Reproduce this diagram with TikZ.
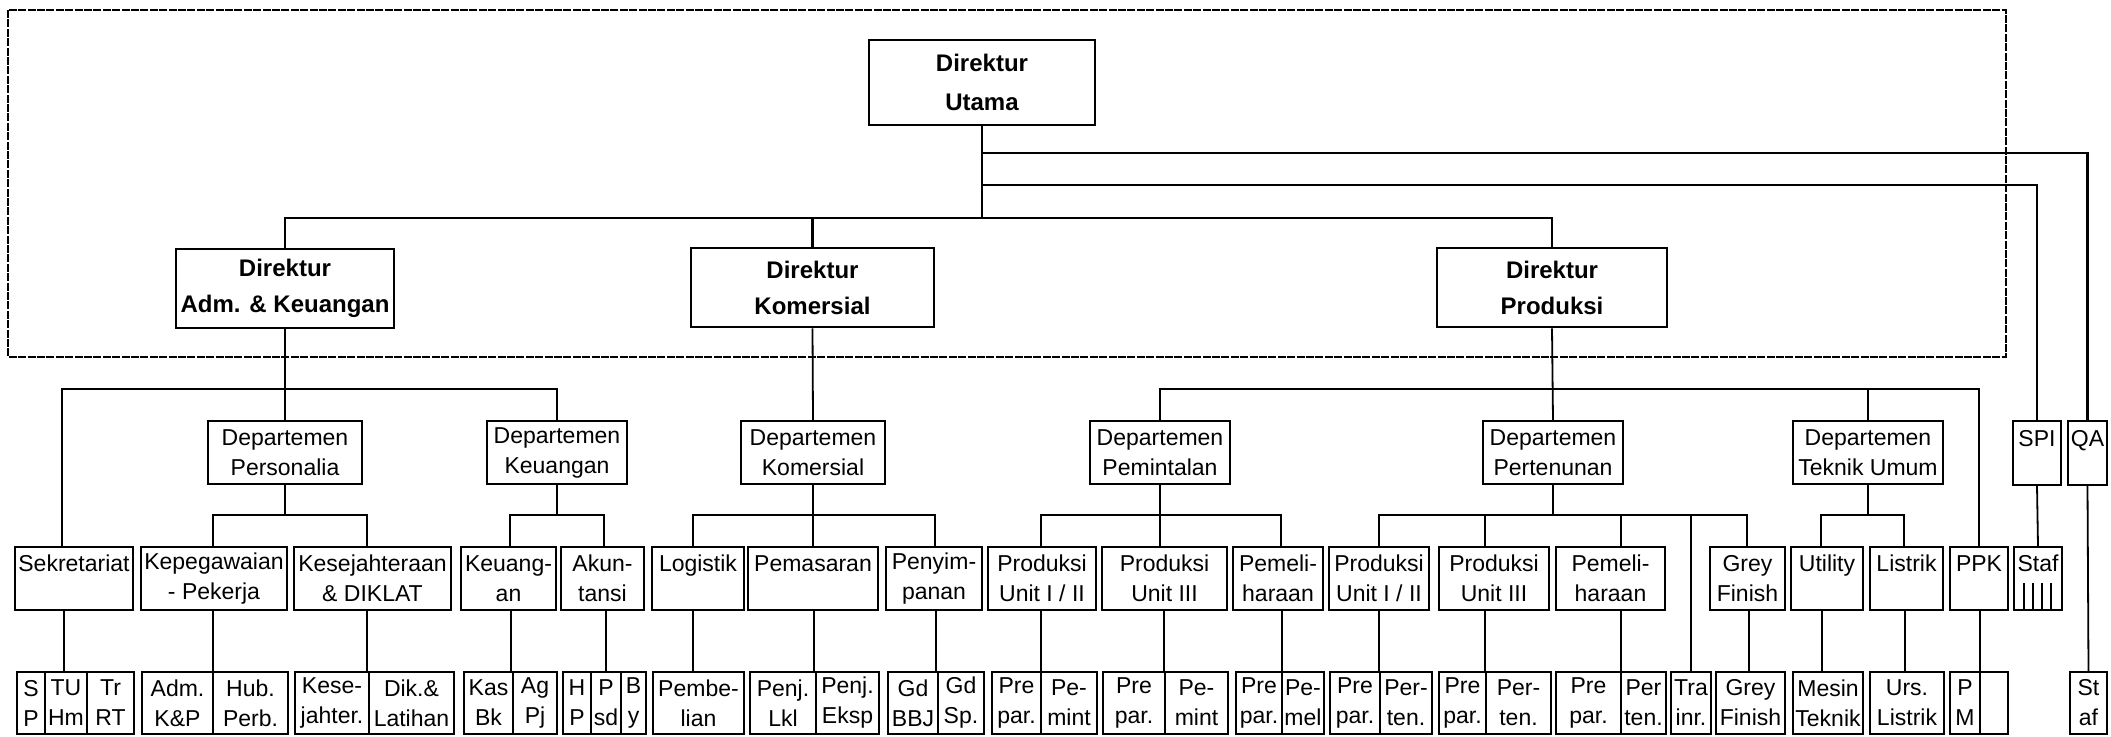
\documentclass[tikz,border=0pt]{standalone}
\usepackage{fontspec}
\setmainfont{Liberation Sans}
\newcommand\obox[7][]{\node[#1, minimum width={(#4-#2)*0.5pt}, minimum height={(#5-#3)*0.5pt}] (#6) at ({(#2+#4)/2},{(#3+#5)/2}) {#7};}
\newcommand\vl[3]{\draw[conn] (#2.south -| #1,0) -- (#3.north -| #1,0);}
\tikzset{
 dir/.style={draw, line width=1.3pt, inner sep=0pt, align=center, font=\bfseries\fontsize{12}{18}\selectfont},
 dept/.style={draw, line width=0.9pt, inner sep=0pt, align=center, font=\fontsize{11.5}{15}\selectfont},
 unit/.style={draw, line width=0.9pt, inner sep=0pt, align=center, font=\fontsize{11.5}{15}\selectfont},
 leaf/.style={draw, line width=0.9pt, inner sep=0pt, align=center, font=\fontsize{11.5}{15}\selectfont},
 conn/.style={line width=0.9pt},
 mconn/.style={line width=1.2pt},
}
\begin{document}
\begin{tikzpicture}[x=0.5pt,y=-0.5pt]
\useasboundingbox (0,0) rectangle (2111,737);
% frame
\draw[dash pattern=on 4pt off 0.7pt, line width=0.7pt] (8,10) rectangle (2006,357);
% directors
\obox[dir,font=\bfseries\fontsize{12}{19.5}\selectfont]{869}{40}{1095}{125}{du}{Direktur\\Utama}
\obox[dir]{176}{249}{394}{328}{dadm}{Direktur\\Adm. \& Keuangan}
\obox[dir]{691}{248}{934}{327}{dkom}{Direktur\\Komersial}
\obox[dir]{1437}{248}{1667}{327}{dprod}{Direktur\\Produksi}
% departments
\obox[dept]{208}{421}{362}{484}{dpers}{Departemen\\Personalia}
\obox[dept]{487}{421}{627}{484}{dkeu}{Departemen\\Keuangan}
\obox[dept]{741}{421}{885}{484}{dkomd}{Departemen\\Komersial}
\obox[dept]{1090}{421}{1230}{484}{dpem}{Departemen\\Pemintalan}
\obox[dept]{1483}{421}{1623}{484}{dper}{Departemen\\Pertenunan}
\obox[dept]{1793}{421}{1943}{484}{dtek}{Departemen\\Teknik Umum}
\obox[dept]{2013}{421}{2061}{485}{spi}{SPI\\\mbox{}}
\obox[dept]{2068}{421}{2107}{485}{qa}{QA\\\mbox{}}
% row 3
\obox[unit]{15}{547}{133}{610}{sek}{Sekretariat\\\mbox{}}
\obox[unit]{141}{547}{287}{610}{kep}{Kepegawaian\\- Pekerja}
\obox[unit]{294}{547}{451}{610}{kes}{Kesejahteraan\\\& DIKLAT}
\obox[unit]{461}{547}{556}{610}{keu}{Keuang-\\an}
\obox[unit]{561}{547}{644}{610}{aku}{Akun-\\tansi}
\obox[unit]{652}{547}{744}{610}{logi}{Logistik\\\mbox{}}
\obox[unit]{748}{547}{878}{610}{pem}{Pemasaran\\\mbox{}}
\obox[unit]{886}{547}{982}{610}{peny}{Penyim-\\panan}
\obox[unit]{988}{547}{1096}{610}{pmA}{Produksi\\Unit I / II}
\obox[unit]{1102}{547}{1227}{610}{pmB}{Produksi\\Unit III}
\obox[unit]{1233}{547}{1323}{610}{pmC}{Pemeli-\\haraan}
\obox[unit]{1329}{547}{1429}{610}{ptA}{Produksi\\Unit I / II}
\obox[unit]{1439}{547}{1549}{610}{ptB}{Produksi\\Unit III}
\obox[unit]{1556}{547}{1665}{610}{ptC}{Pemeli-\\haraan}
\obox[unit]{1710}{547}{1785}{610}{grey}{Grey\\Finish}
\obox[unit]{1791}{547}{1863}{610}{util}{Utility\\\mbox{}}
\obox[unit]{1870}{547}{1943}{610}{lis}{Listrik\\\mbox{}}
\obox[unit]{1950}{547}{2008}{610}{ppk}{PPK\\\mbox{}}
\obox[unit]{2014}{547}{2062}{610}{staf}{Staf\\\mbox{}}
% row 4
\obox[leaf]{17}{672}{45}{734}{sA}{S\\P}
\obox[leaf]{45}{672}{87}{734}{sB}{TU\\Hm}
\obox[leaf]{87}{672}{134}{734}{sC}{Tr\\RT}
\obox[leaf]{142}{672}{213}{734}{kA}{Adm.\\K\&P}
\obox[leaf]{213}{672}{288}{734}{kB}{Hub.\\Perb.}
\obox[leaf]{295}{672}{369}{734}{eA}{Kese-\\jahter.}
\obox[leaf]{369}{672}{454}{734}{eB}{Dik.\&\\Latihan}
\obox[leaf]{464}{672}{513}{734}{uA}{Kas\\Bk}
\obox[leaf]{513}{672}{557}{734}{uB}{Ag\\Pj}
\obox[leaf]{563}{672}{591}{734}{aA}{H\\P}
\obox[leaf]{591}{672}{621}{734}{aB}{P\\sd}
\obox[leaf]{621}{672}{646}{734}{aC}{B\\y}
\obox[leaf]{653}{672}{744}{734}{lA}{Pembe-\\lian}
\obox[leaf]{750}{672}{816}{734}{mA}{Penj.\\Lkl}
\obox[leaf]{816}{672}{879}{734}{mB}{Penj.\\Eksp}
\obox[leaf]{888}{672}{938}{734}{gA}{Gd\\BBJ}
\obox[leaf]{938}{672}{984}{734}{gB}{Gd\\Sp.}
\obox[leaf]{992}{672}{1041}{734}{paA}{Pre\\par.}
\obox[leaf]{1041}{672}{1097}{734}{paB}{Pe-\\mint}
\obox[leaf]{1103}{672}{1165}{734}{pbA}{Pre\\par.}
\obox[leaf]{1165}{672}{1228}{734}{pbB}{Pe-\\mint}
\obox[leaf]{1236}{672}{1282}{734}{pcA}{Pre\\par.}
\obox[leaf]{1282}{672}{1324}{734}{pcB}{Pe-\\mel}
\obox[leaf]{1330}{672}{1380}{734}{taA}{Pre\\par.}
\obox[leaf]{1380}{672}{1432}{734}{taB}{Per-\\ten.}
\obox[leaf]{1439}{672}{1486}{734}{tbA}{Pre\\par.}
\obox[leaf]{1486}{672}{1551}{734}{tbB}{Per-\\ten.}
\obox[leaf]{1556}{672}{1621}{734}{tcA}{Pre\\par.}
\obox[leaf]{1621}{672}{1666}{734}{tcB}{Per\\ten.}
\obox[leaf]{1671}{672}{1711}{734}{tra}{Tra\\inr.}
\obox[leaf]{1716}{672}{1785}{734}{gf}{Grey\\Finish}
\obox[leaf]{1793}{672}{1863}{734}{mt}{Mesin\\Teknik}
\obox[leaf]{1870}{672}{1944}{734}{ul}{Urs.\\Listrik}
\obox[leaf]{1950}{672}{1980}{734}{pmP}{P\\M}
\obox[leaf]{1980}{672}{2008}{734}{pmQ}{}
\obox[leaf]{2070}{672}{2107}{734}{st}{St\\af}
% top connectors
\coordinate (mbus) at (283,218);
\draw[mconn] (du.south) -- (du.south |- mbus);
\draw[mconn] (dadm.north) -- (dadm.north |- mbus) -- (dprod.north |- mbus) -- (dprod.north);
\draw[mconn] (dkom.north) -- (dkom.north |- mbus);
\coordinate (qaL) at (0,153);
\coordinate (spiL) at (0,185);
\draw[mconn] (du.south |- qaL) -- (qa.north |- qaL) -- (qa.north);
\draw[mconn] (du.south |- spiL) -- (spi.north |- spiL) -- (spi.north);
% adm group
\coordinate (abL) at (62,389);
\coordinate (abR) at (557,389);
\draw[conn] (dadm.south) -- (dpers.north);
\draw[conn] (sek.north -| abL) -- (abL) -- (abR) -- (dkeu.north);
% komersial
\draw[conn] (dkom.south) -- (dkomd.north);
% produksi group
\coordinate (pbL) at (1160,389);
\coordinate (pbR) at (1979,389);
\draw[conn] (dprod.south) -- (dper.north);
\draw[conn] (dpem.north) -- (pbL) -- (pbR) -- (ppk.north);
\draw[conn] (dtek.north) -- (dtek.north |- pbL);
% spi / qa
\draw[conn] (spi.south) -- (staf.north);
\draw[conn] (qa.south) -- (st.north);
% personalia sub
\coordinate (psL) at (213,515);
\coordinate (psR) at (367,515);
\draw[conn] (dpers.south) -- (dpers.south |- psL);
\draw[conn] (kep.north -| psL) -- (psL) -- (psR) -- (kes.north -| psR);
% keuangan sub
\coordinate (ksL) at (510,515);
\coordinate (ksR) at (604,515);
\draw[conn] (dkeu.south) -- (dkeu.south |- ksL);
\draw[conn] (keu.north -| ksL) -- (ksL) -- (ksR) -- (aku.north -| ksR);
% komersial sub
\coordinate (csL) at (693,515);
\coordinate (csR) at (935,515);
\draw[conn] (dkomd.south) -- (pem.north -| dkomd.south);
\draw[conn] (logi.north -| csL) -- (csL) -- (csR) -- (peny.north -| csR);
% pemintalan sub
\coordinate (msL) at (1041,515);
\coordinate (msR) at (1281,515);
\draw[conn] (dpem.south) -- (pmB.north -| dpem.south);
\draw[conn] (pmA.north -| msL) -- (msL) -- (msR) -- (pmC.north -| msR);
% pertenunan sub
\coordinate (tsL) at (1379,515);
\coordinate (tsR) at (1747,515);
\draw[conn] (dper.south) -- (dper.south |- tsL);
\draw[conn] (ptA.north -| tsL) -- (tsL) -- (tsR) -- (grey.north -| tsR);
\draw[conn] (tsL -| 1485,0) -- (ptB.north -| 1485,0);
\draw[conn] (tsL -| 1621,0) -- (ptC.north -| 1621,0);
\draw[conn] (tsL -| tra.north) -- (tra.north);
% teknik sub
\coordinate (esL) at (1821,515);
\coordinate (esR) at (1904,515);
\draw[conn] (dtek.south) -- (dtek.south |- esL);
\draw[conn] (util.north -| esL) -- (esL) -- (esR) -- (lis.north -| esR);
% row3 -> row4
\vl{64}{sek}{sB}
\vl{213}{kep}{kA}
\vl{367}{kes}{eA}
\vl{511}{keu}{uA}
\vl{606}{aku}{aB}
\vl{693}{logi}{lA}
\vl{814}{pem}{mA}
\vl{936}{peny}{gA}
\vl{1041}{pmA}{paA}
\vl{1164}{pmB}{pbA}
\vl{1282}{pmC}{pcA}
\vl{1379}{ptA}{taA}
\vl{1485}{ptB}{tbA}
\vl{1621}{ptC}{tcA}
\vl{1749}{grey}{gf}
\vl{1822}{util}{mt}
\vl{1905}{lis}{ul}
\vl{1980}{ppk}{pmP}
% staf pictogram
\foreach \xx in {2024,2033,2042,2051} \draw[conn] (staf.south -| \xx,0) -- ++(0,-28);
\end{tikzpicture}
\end{document}
